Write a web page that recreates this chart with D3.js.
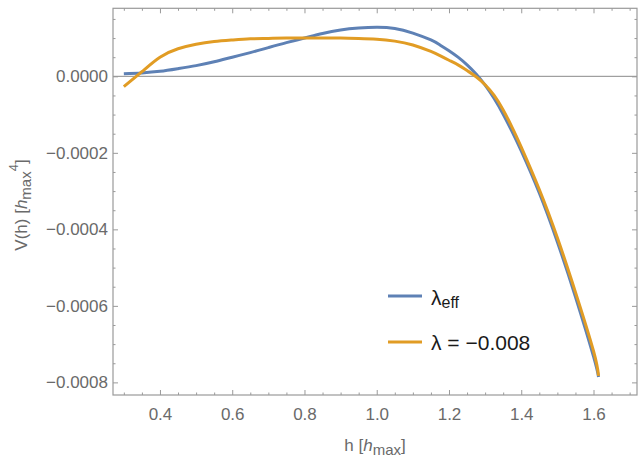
<!DOCTYPE html>
<html><head><meta charset="utf-8">
<script src="https://cdn.jsdelivr.net/npm/d3@7"></script>
<style>
html,body{margin:0;padding:0;background:#fff;}
svg{display:block;font-family:"Liberation Sans",Arial,sans-serif;}
</style></head>
<body><svg id="c" width="641" height="462"></svg>
<script>
// ---- data (V in units of h_max^4) ----
const hValues = [0.30,0.35,0.40,0.45,0.50,0.55,0.60,0.65,0.70,0.75,0.80,0.85,0.90,0.95,1.00,1.05,1.10,1.15,1.175,1.20,1.225,1.25,1.275,1.30,1.325,1.35,1.375,1.40,1.45,1.50,1.55,1.60,1.614];
const lambdaEffV = [0.07e-4,0.09e-4,0.13e-4,0.20e-4,0.28e-4,0.38e-4,0.50e-4,0.62e-4,0.75e-4,0.88e-4,1.00e-4,1.12e-4,1.21e-4,1.26e-4,1.28e-4,1.25e-4,1.13e-4,0.95e-4,0.82e-4,0.67e-4,0.50e-4,0.30e-4,0.06e-4,-0.23e-4,-0.58e-4,-0.99e-4,-1.45e-4,-1.95e-4,-3.05e-4,-4.33e-4,-5.76e-4,-7.32e-4,-7.86e-4];
const lambdaConstV = [-0.27e-4,0.12e-4,0.50e-4,0.72e-4,0.84e-4,0.91e-4,0.95e-4,0.98e-4,0.99e-4,1.00e-4,1.00e-4,1.00e-4,1.00e-4,0.99e-4,0.97e-4,0.92e-4,0.82e-4,0.65e-4,0.54e-4,0.42e-4,0.30e-4,0.15e-4,-0.01e-4,-0.22e-4,-0.50e-4,-0.88e-4,-1.34e-4,-1.85e-4,-2.96e-4,-4.22e-4,-5.64e-4,-7.18e-4,-7.83e-4];
const xMajorTicks = [0.4,0.6,0.8,1.0,1.2,1.4,1.6];
const xMinorTicks = [0.3,0.35,0.45,0.5,0.55,0.65,0.7,0.75,0.85,0.9,0.95,1.05,1.1,1.15,1.25,1.3,1.35,1.45,1.5,1.55,1.65,1.7];
const yMajorTicks = [0,-0.0002,-0.0004,-0.0006,-0.0008];
const yMinorTicks = [0.00015,0.0001,0.00005,-0.00005,-0.0001,-0.00015,-0.00025,-0.0003,-0.00035,-0.00045,-0.0005,-0.00055,-0.00065,-0.0007,-0.00075];
const seriesNames = ["eff","λ = −0.008"];
const colors = ["#5E81B5","#E19C24"];

const svg = d3.select("#c");
const L=113, R=637, T=8.3, B=395;
const x = d3.scaleLinear().domain([0.27,1.7204]).range([L,R]);
const y = d3.scaleLinear().domain([-0.000833,0.0001778]).range([B,T]);

const frameCol="#9a9a9a", labCol="#6a6a6a";

// zero line
svg.append("line").attr("x1",L).attr("x2",R).attr("y1",y(0)).attr("y2",y(0))
  .attr("stroke","#8a8a8a").attr("stroke-width",1);

function styleAxis(g){
  g.select(".domain").remove();
  g.selectAll(".tick line").attr("stroke",frameCol).attr("stroke-width",1);
  g.selectAll(".tick text").attr("fill",labCol).attr("font-size","17px")
   .attr("font-family","'Liberation Sans',Arial,sans-serif");
}
// bottom
svg.append("g").attr("transform",`translate(0,${B})`)
  .call(d3.axisBottom(x).tickValues(xMajorTicks).tickSizeInner(-5).tickSizeOuter(0).tickPadding(13).tickFormat(d3.format(".1f")))
  .call(styleAxis);
svg.append("g").attr("transform",`translate(0,${B})`)
  .call(d3.axisBottom(x).tickValues(xMinorTicks).tickSizeInner(-2.5).tickSizeOuter(0).tickFormat(""))
  .call(styleAxis);
// top
svg.append("g").attr("transform",`translate(0,${T})`)
  .call(d3.axisTop(x).tickValues(xMajorTicks).tickSizeInner(-5).tickSizeOuter(0).tickFormat(""))
  .call(styleAxis);
svg.append("g").attr("transform",`translate(0,${T})`)
  .call(d3.axisTop(x).tickValues(xMinorTicks).tickSizeInner(-2.5).tickSizeOuter(0).tickFormat(""))
  .call(styleAxis);
// left
svg.append("g").attr("transform",`translate(${L},0)`)
  .call(d3.axisLeft(y).tickValues(yMajorTicks).tickSizeInner(-5).tickSizeOuter(0).tickPadding(5).tickFormat(d3.format(".4f")))
  .call(styleAxis);
svg.append("g").attr("transform",`translate(${L},0)`)
  .call(d3.axisLeft(y).tickValues(yMinorTicks).tickSizeInner(-2.5).tickSizeOuter(0).tickFormat(""))
  .call(styleAxis);
// right
svg.append("g").attr("transform",`translate(${R},0)`)
  .call(d3.axisRight(y).tickValues(yMajorTicks).tickSizeInner(-5).tickSizeOuter(0).tickFormat(""))
  .call(styleAxis);
svg.append("g").attr("transform",`translate(${R},0)`)
  .call(d3.axisRight(y).tickValues(yMinorTicks).tickSizeInner(-2.5).tickSizeOuter(0).tickFormat(""))
  .call(styleAxis);

// frame
svg.append("rect").attr("x",L).attr("y",T).attr("width",R-L).attr("height",B-T)
  .attr("fill","none").attr("stroke",frameCol).attr("stroke-width",1.2);

// curves
const line = d3.line().x((d,i)=>x(hValues[i])).y(d=>y(d)).curve(d3.curveNatural);
[lambdaEffV, lambdaConstV].forEach((vals,k)=>{
  svg.append("path").attr("d",line(vals)).attr("fill","none")
    .attr("stroke",colors[k]).attr("stroke-width",3).attr("stroke-linecap","butt");
});

// legend
const leg = svg.append("g");
[[296,0],[342,1]].forEach(([ly,k])=>{
  leg.append("line").attr("x1",388).attr("x2",422).attr("y1",ly).attr("y2",ly)
    .attr("stroke",colors[k]).attr("stroke-width",3);
});
const t1 = leg.append("text").attr("x",431).attr("y",305).attr("fill","#1a1a1a").attr("font-size","21px");
t1.append("tspan").text("λ");
t1.append("tspan").attr("font-size","16px").attr("dy",3).text(seriesNames[0]);
leg.append("text").attr("x",431).attr("y",350).attr("fill","#1a1a1a").attr("font-size","21px").text(seriesNames[1]);

// x label
const xl = svg.append("text").attr("x",375).attr("y",451).attr("text-anchor","middle")
  .attr("fill",labCol).attr("font-size","17px");
xl.append("tspan").text("h [");
xl.append("tspan").attr("font-style","italic").text("h");
xl.append("tspan").attr("font-size","15px").attr("dy",4).text("max");
xl.append("tspan").attr("dy",-4).text("]");

// y label
const yl = svg.append("text").attr("transform","translate(27,205) rotate(-90)").attr("text-anchor","middle")
  .attr("fill",labCol).attr("font-size","17px");
yl.append("tspan").text("V(h) [");
yl.append("tspan").attr("font-style","italic").text("h");
yl.append("tspan").attr("font-size","15px").attr("dy",4).text("max");
yl.append("tspan").attr("font-size","13px").attr("dy",-13).text("4");
yl.append("tspan").attr("dy",9).text("]");
</script></body></html>
